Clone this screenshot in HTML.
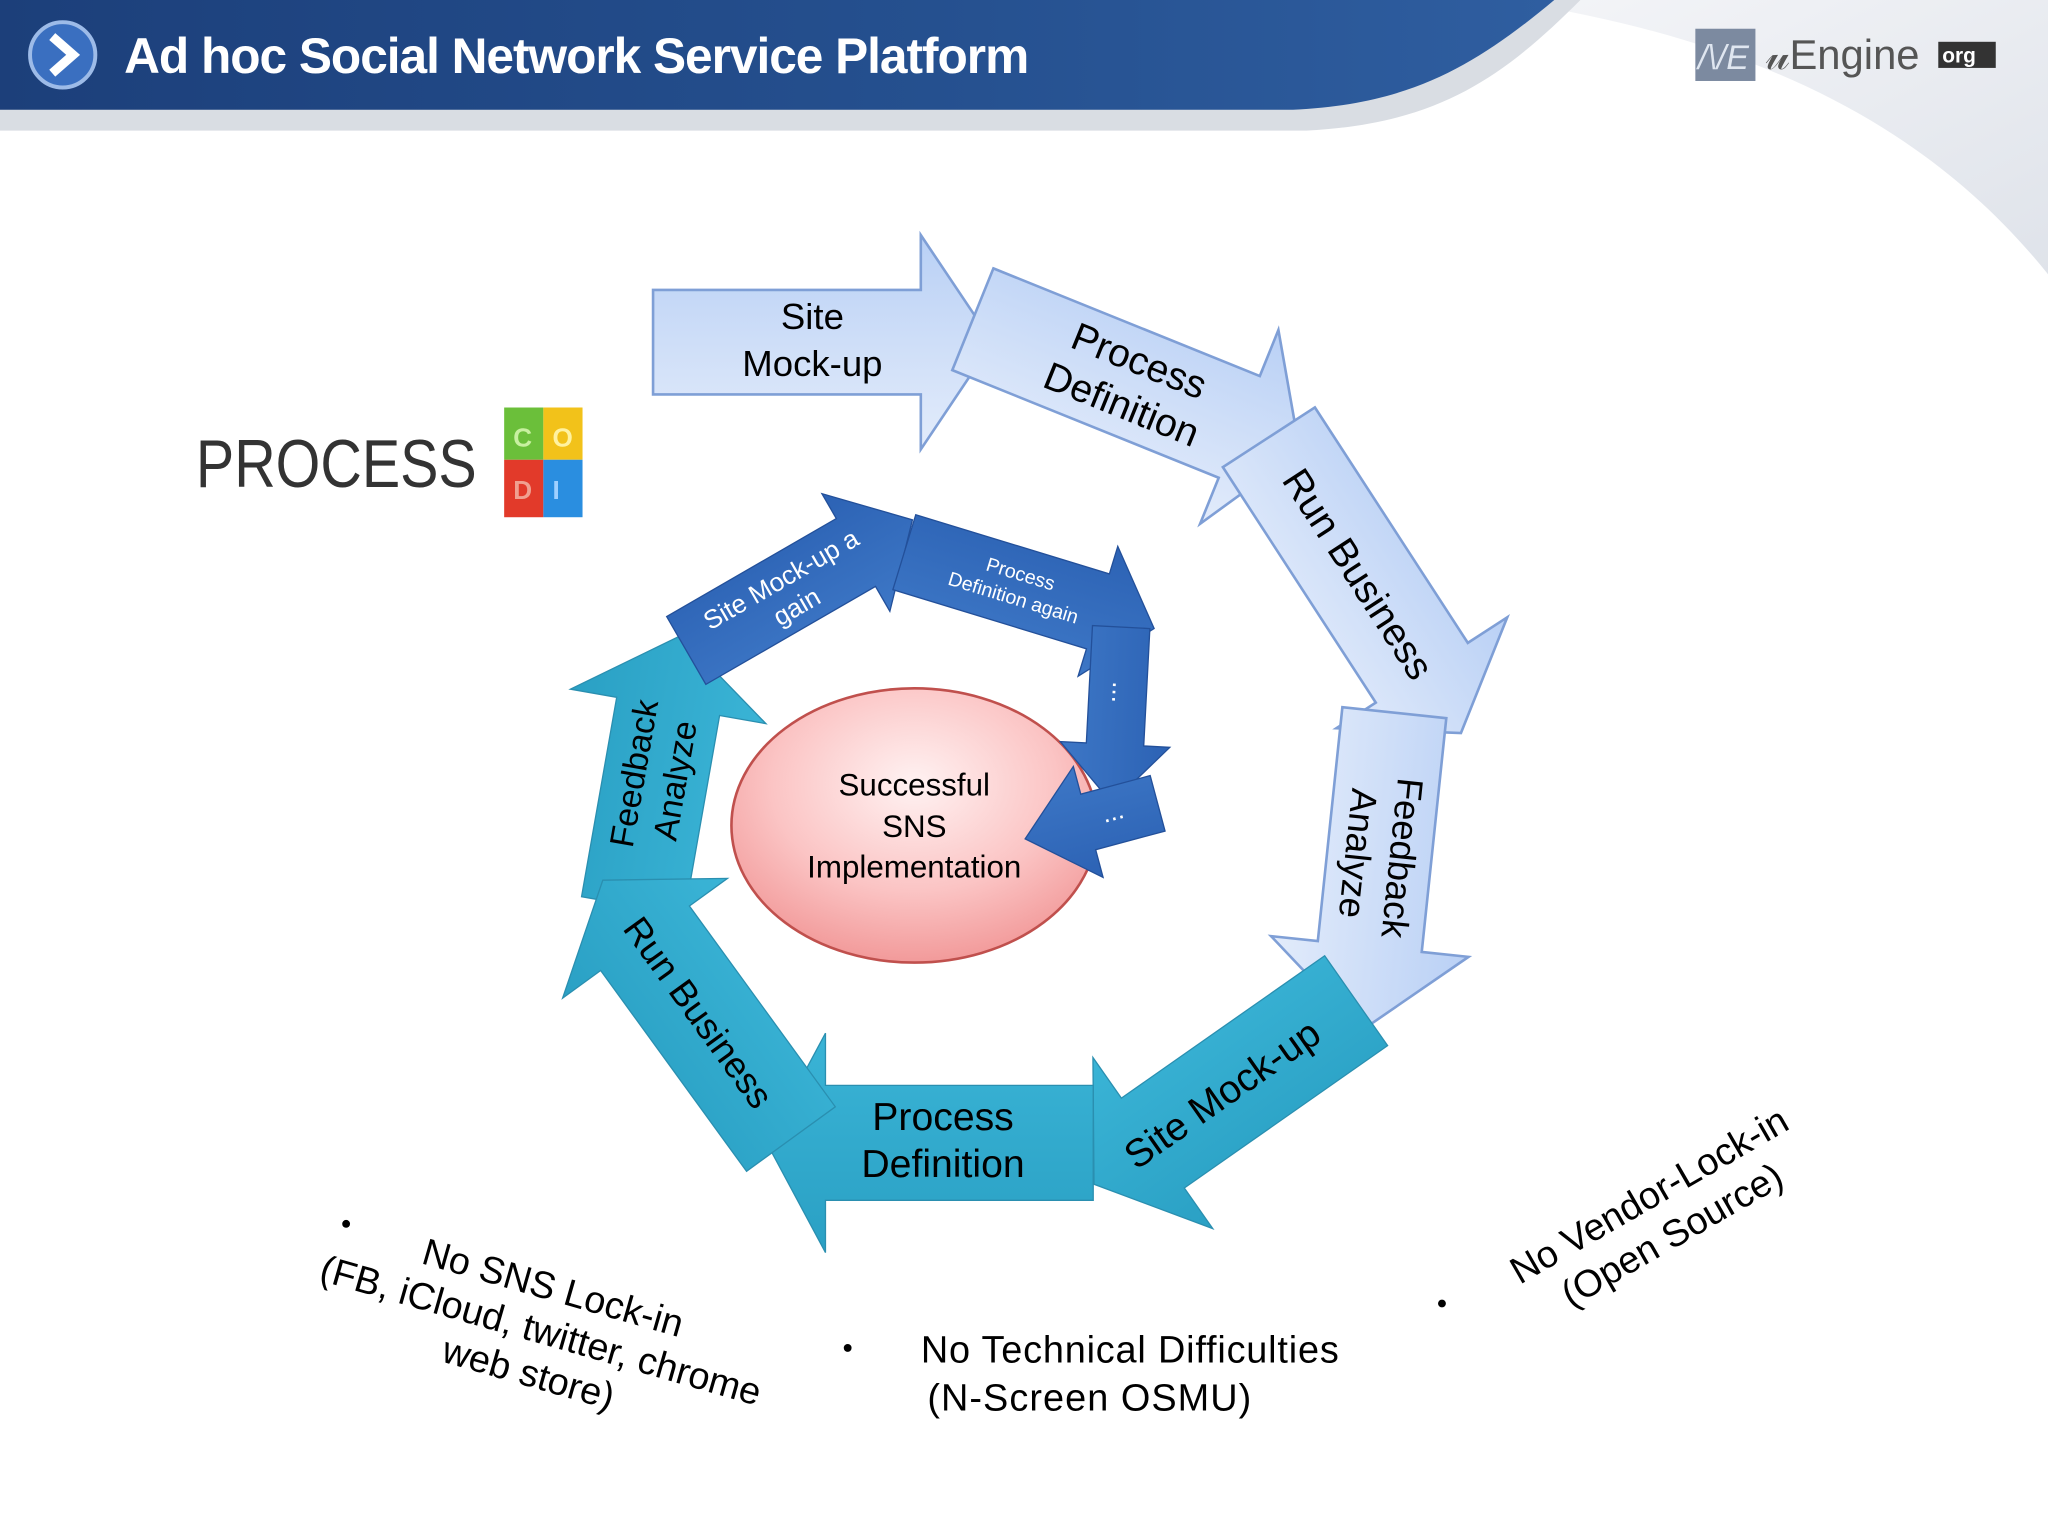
<!DOCTYPE html>
<html><head><meta charset="utf-8"><style>
html,body{margin:0;padding:0;background:#fff;}
svg{display:block;}
text{font-family:"Liberation Sans",Arial,sans-serif;}
</style></head><body>
<svg width="2048" height="1536" viewBox="0 0 1568 1176" xmlns="http://www.w3.org/2000/svg">
<defs>
<linearGradient id="hdr" x1="0" y1="0" x2="1" y2="0">
<stop offset="0" stop-color="#1c3f7a"/><stop offset="0.6" stop-color="#25508f"/><stop offset="1" stop-color="#2f5ea0"/></linearGradient>
<linearGradient id="lb" x1="0" y1="0" x2="0" y2="1">
<stop offset="0" stop-color="#b9d0f5"/><stop offset="1" stop-color="#e3ecfb"/></linearGradient>
<linearGradient id="tl" x1="0" y1="0" x2="0" y2="1">
<stop offset="0" stop-color="#2aa0c4"/><stop offset="1" stop-color="#3ab4d6"/></linearGradient>
<linearGradient id="db" x1="0" y1="0" x2="0" y2="1">
<stop offset="0" stop-color="#2c62b4"/><stop offset="1" stop-color="#3d77c6"/></linearGradient>
<radialGradient id="pk" cx="0.5" cy="0.35" r="0.65">
<stop offset="0" stop-color="#fff2f2"/><stop offset="0.6" stop-color="#fbc4c4"/><stop offset="1" stop-color="#f29a9a"/></radialGradient>
<linearGradient id="sw" x1="0" y1="0" x2="1" y2="1">
<stop offset="0" stop-color="#f4f5f8"/><stop offset="1" stop-color="#dfe3ea"/></linearGradient>
</defs>
<rect width="1568" height="1176" fill="#fff"/>
<path d="M1150 0 C1350 30 1480 100 1568 210 L1568 0 Z" fill="url(#sw)"/>
<path d="M0 0 L1210 0 C1150 60 1100 95 1000 100 L0 100 Z" fill="#d9dde3"/>
<path d="M0 0 L1190 0 C1130 50 1080 80 990 84 L0 84 Z" fill="url(#hdr)"/>
<circle cx="48" cy="42" r="25" fill="#3a6fc0" stroke="#9dbbe8" stroke-width="3"/>
<path d="M40 28 L56 42 L40 56" fill="none" stroke="#fff" stroke-width="7"/>
<text x="95" y="56" font-size="38" font-weight="bold" fill="#fff" letter-spacing="-1" textLength="692">Ad hoc Social Network Service Platform</text>
<rect x="1298" y="22" width="46" height="40" fill="#7c8aa0"/>
<text x="1300" y="53" font-size="26" font-style="italic" fill="#dfe6f0">/\/E</text>
<text x="1352" y="53" font-size="32" fill="#555">𝓊Engine</text>
<rect x="1484" y="32" width="44" height="20" fill="#333"/>
<text x="1487" y="48" font-size="16" font-weight="bold" fill="#fff">org</text>
<text x="150" y="373" font-size="52" fill="#333" textLength="215" lengthAdjust="spacingAndGlyphs">PROCESS</text>
<rect x="386" y="312" width="30" height="40" fill="#6bbf3a"/>
<rect x="416" y="312" width="30" height="40" fill="#f2c21a"/>
<rect x="386" y="352" width="30" height="44" fill="#e23a2a"/>
<rect x="416" y="352" width="30" height="44" fill="#2a8ee0"/>
<text x="393" y="342" font-size="20" font-weight="bold" fill="#c8f0a0">C</text>
<text x="423" y="342" font-size="20" font-weight="bold" fill="#fff2a0">O</text>
<text x="393" y="382" font-size="20" font-weight="bold" fill="#f0a090">D</text>
<text x="423" y="382" font-size="20" font-weight="bold" fill="#a0d0ff">I</text>

<g transform="translate(630,262)">
<polygon points="-130,-40 75,-40 75,-82 130,0 75,82 75,40 -130,40" fill="url(#lb)" stroke="#7f9fd6" stroke-width="2"/>
<text text-anchor="middle" font-size="28" x="-8" y="-10">Site</text><text text-anchor="middle" font-size="28" x="-8" y="26">Mock-up</text></g>
<g transform="translate(870,295) rotate(22)">
<polygon points="-135,-42 85,-42 85,-80 135,0 85,80 85,42 -135,42" fill="url(#lb)" stroke="#7f9fd6" stroke-width="2"/>
<text text-anchor="middle" font-size="30" x="-5" y="-8">Process</text><text text-anchor="middle" font-size="30" x="-5" y="28">Definition</text></g>
<g transform="translate(1045,448) rotate(57)">
<polygon points="-135,-42 80,-42 80,-78 135,0 80,78 80,42 -135,42" fill="url(#lb)" stroke="#7f9fd6" stroke-width="2"/>
<text text-anchor="middle" font-size="30" x="-10" y="10">Run Business</text></g>
<g transform="translate(1055,665) rotate(96)">
<polygon points="-120,-40 60,-40 60,-76 125,0 60,76 60,40 -120,40" fill="url(#lb)" stroke="#7f9fd6" stroke-width="2"/>
<text text-anchor="middle" font-size="28" x="-10" y="-8">Feedback</text><text text-anchor="middle" font-size="28" x="-10" y="26">Analyze</text></g>

<g transform="translate(940,835) rotate(145)">
<polygon points="-120,-42 70,-42 70,-80 125,0 70,80 70,42 -120,42" fill="url(#tl)" stroke="#2a8fb0" stroke-width="1"/>
<text text-anchor="middle" font-size="30" x="-5" y="10" transform="rotate(180)">Site Mock-up</text></g>
<g transform="translate(712,875) rotate(180)">
<polygon points="-125,-44 80,-44 80,-84 125,0 80,84 80,44 -125,44" fill="url(#tl)" stroke="#2a8fb0" stroke-width="1"/>
<g transform="rotate(180)"><text text-anchor="middle" font-size="30" x="10" y="-10">Process</text><text text-anchor="middle" font-size="30" x="10" y="26">Definition</text></g></g>
<g transform="translate(502,595) rotate(-80)">
<polygon points="-100,-40 55,-40 55,-76 110,0 55,76 55,40 -100,40" fill="url(#tl)" stroke="#2a8fb0" stroke-width="1"/>
<text text-anchor="middle" font-size="26" x="0" y="-8">Feedback</text><text text-anchor="middle" font-size="26" x="0" y="24">Analyze</text></g>
<g transform="translate(535,775) rotate(-126)">
<polygon points="-120,-42 70,-42 70,-78 125,0 70,78 70,42 -120,42" fill="url(#tl)" stroke="#2a8fb0" stroke-width="1"/>
<text text-anchor="middle" font-size="28" x="0" y="10" transform="rotate(180)">Run Business</text></g>

<g transform="translate(612,448) rotate(-30)">
<polygon points="-100,-30 50,-30 50,-52 100,0 50,52 50,30 -100,30" fill="url(#db)" stroke="#23509a" stroke-width="1"/>
<text text-anchor="middle" font-size="20" fill="#fff" x="-10" y="-4">Site Mock-up a</text><text text-anchor="middle" font-size="20" fill="#fff" x="-10" y="20">gain</text></g>
<g transform="translate(788,452) rotate(17)">
<polygon points="-100,-30 55,-30 55,-52 100,0 55,52 55,30 -100,30" fill="url(#db)" stroke="#23509a" stroke-width="1"/>
<text text-anchor="middle" font-size="15" fill="#fff" x="-10" y="-5">Process</text><text text-anchor="middle" font-size="15" fill="#fff" x="-10" y="14">Definition again</text></g>
<ellipse cx="700" cy="632" rx="140" ry="105" fill="url(#pk)" stroke="#c0504d" stroke-width="2"/>
<text x="700" y="609" text-anchor="middle" font-size="24">Successful</text>
<text x="700" y="641" text-anchor="middle" font-size="24">SNS</text>
<text x="700" y="672" text-anchor="middle" font-size="24">Implementation</text>
<g transform="translate(855,545) rotate(93)">
<polygon points="-65,-22 25,-22 25,-42 70,0 25,42 25,22 -65,22" fill="url(#db)" stroke="#23509a" stroke-width="1"/>
<text text-anchor="middle" font-size="20" fill="#fff" x="-15" y="4">...</text></g>
<g transform="translate(838,628) rotate(165)">
<polygon points="-50,-22 5,-22 5,-44 55,0 5,44 5,22 -50,22" fill="url(#db)" stroke="#23509a" stroke-width="1"/>
<text text-anchor="middle" font-size="20" fill="#fff" x="-15" y="4" transform="rotate(180) translate(30,0)">...</text></g>

<circle cx="265" cy="937" r="3" fill="#000"/>
<g transform="translate(418,1005) rotate(16)">
<text text-anchor="middle" font-size="29" y="-10">No SNS Lock-in</text>
<text text-anchor="middle" font-size="29" y="24">(FB, iCloud, twitter, chrome</text>
<text text-anchor="middle" font-size="29" y="58">web store)</text></g>
<circle cx="649" cy="1032" r="3" fill="#000"/>
<text x="705" y="1043" font-size="29" textLength="320">No Technical Difficulties</text>
<text x="710" y="1080" font-size="29" textLength="248">(N-Screen OSMU)</text>
<circle cx="1104" cy="998" r="3" fill="#000"/>
<g transform="translate(1270,928) rotate(-30)">
<text text-anchor="middle" font-size="29" y="-5">No Vendor-Lock-in</text>
<text text-anchor="middle" font-size="29" y="30">(Open Source)</text></g>
</svg>
</body></html>
